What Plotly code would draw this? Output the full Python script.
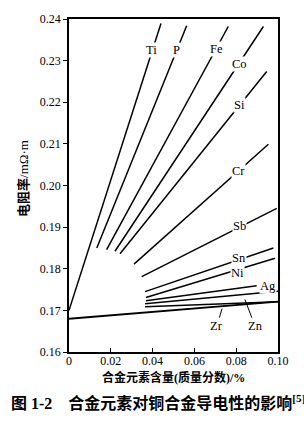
import plotly.graph_objects as go

# ---- data ----
elements = ["Ti", "P", "Fe", "Co", "Si", "Cr", "Sb", "Sn", "Ni", "Ag", "Cd", "Zn", "Zr"]
x_start = [0.0, 0.0133, 0.0180, 0.0220, 0.0244, 0.0311, 0.0348, 0.0364, 0.0368, 0.0368, 0.0364, 0.0364, 0.0]
y_start = [0.1700, 0.1850, 0.1846, 0.1842, 0.1836, 0.1811, 0.1781, 0.1745, 0.1731, 0.1723, 0.1716, 0.1709, 0.1680]
x_end = [0.0440, 0.0563, 0.0762, 0.0930, 0.0946, 0.0954, 0.0994, 0.0978, 0.0986, 0.0898, 0.1000, 0.1000, 0.1000]
y_end = [0.2389, 0.2384, 0.2382, 0.2382, 0.2274, 0.2099, 0.1945, 0.1850, 0.1825, 0.1759, 0.1746, 0.1721, 0.1721]

# inline label positions (on the line)
inline_labels = ["Ti", "P", "Fe", "Co", "Si", "Cr", "Sb", "Sn", "Ni", "Ag"]
inline_x = [0.0397, 0.0512, 0.0707, 0.0818, 0.0818, 0.0813, 0.0818, 0.0815, 0.0806, 0.0950]
inline_y = [0.2325, 0.2325, 0.2329, 0.2293, 0.2194, 0.2036, 0.1902, 0.1825, 0.1790, 0.1759]

# labels below with leader lines
leader_labels = ["Zr", "Zn"]
leader_text_x = [0.0708, 0.0890]
leader_text_y = [0.1662, 0.1662]
leader_tip_x = [0.0732, 0.0842]
leader_tip_y = [0.1704, 0.1726]

x_tickvals = [0, 0.02, 0.04, 0.06, 0.08, 0.10]
x_ticktext = ["0", "0.02", "0.04", "0.06", "0.08", "0.10"]
y_tickvals = [0.16, 0.17, 0.18, 0.19, 0.20, 0.21, 0.22, 0.23, 0.24]
y_ticktext = ["0.16", "0.17", "0.18", "0.19", "0.20", "0.21", "0.22", "0.23", "0.24"]

SERIF = "Liberation Serif, Noto Sans CJK SC"

fig = go.Figure()
for i, name in enumerate(elements):
    fig.add_trace(go.Scatter(
        x=[x_start[i], x_end[i]], y=[y_start[i], y_end[i]],
        mode="lines", line=dict(color="black", width=1.9 if name == "Zr" else 1.5),
        showlegend=False, hoverinfo="skip", name=name))

annotations = []
for t, x, y in zip(inline_labels, inline_x, inline_y):
    annotations.append(dict(x=x, y=y, xref="x", yref="y", text=t, showarrow=False,
                            font=dict(family=SERIF, size=12.5, color="black"),
                            bgcolor="white", borderpad=0, xanchor="center", yanchor="middle"))
for t, tx, ty, px, py in zip(leader_labels, leader_text_x, leader_text_y, leader_tip_x, leader_tip_y):
    annotations.append(dict(x=px, y=py, ax=tx, ay=ty, xref="x", yref="y", axref="x", ayref="y",
                            text=t, showarrow=True, arrowhead=0, arrowwidth=1, arrowcolor="black",
                            standoff=0, startstandoff=0,
                            font=dict(family=SERIF, size=12.5, color="black")))

# axis titles and caption
annotations.append(dict(x=-0.215, y=0.52, xref="paper", yref="paper", textangle=-90,
                        text="<b>电阻率</b>/mΩ·m", showarrow=False,
                        font=dict(family=SERIF, size=13, color="black"),
                        xanchor="center", yanchor="middle"))
annotations.append(dict(x=0.5, y=-0.078, xref="paper", yref="paper",
                        text="<b>合金元素含量(质量分数)/%</b>", showarrow=False,
                        font=dict(family=SERIF, size=12, color="black"),
                        xanchor="center", yanchor="middle"))
annotations.append(dict(x=0.425, y=-0.15, xref="paper", yref="paper",
                        text="<b>图 1-2    合金元素对铜合金导电性的影响<sup>[5]</sup></b>", showarrow=False,
                        font=dict(family=SERIF, size=16, color="black"),
                        xanchor="center", yanchor="middle"))

fig.update_layout(
    width=304, height=428,
    margin=dict(l=69, r=26, t=15, b=76),
    paper_bgcolor="white", plot_bgcolor="white",
    annotations=annotations,
    xaxis=dict(range=[0, 0.10], tickvals=x_tickvals, ticktext=x_ticktext,
               showgrid=False, zeroline=False, showline=True, mirror=True,
               linecolor="black", linewidth=1.5, ticks="inside", ticklen=4,
               ticklabelstandoff=-3,
               tickcolor="black", tickfont=dict(family="Liberation Serif", size=12, color="black")),
    yaxis=dict(range=[0.16, 0.24], tickvals=y_tickvals, ticktext=y_ticktext,
               showgrid=False, zeroline=False, showline=True, mirror=True,
               linecolor="black", linewidth=1.5, ticks="outside", ticklen=4,
               tickcolor="black", tickfont=dict(family="Liberation Serif", size=12, color="black")),
)

fig.write_html("out.html")
